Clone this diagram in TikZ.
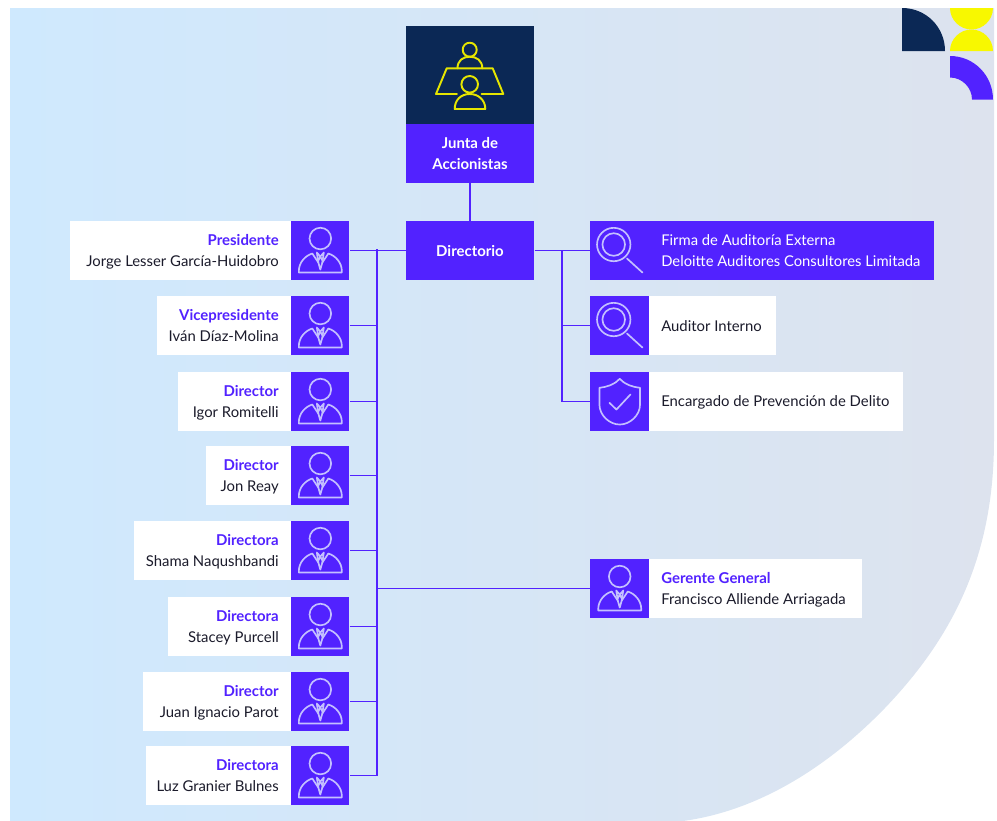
\documentclass[tikz,border=0pt]{standalone}
\usepackage{fontspec}
\setmainfont{Lato}
\definecolor{vio}{HTML}{5222FF}
\definecolor{navy}{HTML}{0B2855}
\definecolor{yel}{HTML}{F8F800}
\definecolor{yelline}{HTML}{E6E600}
\definecolor{ink}{HTML}{1B1B2B}
\definecolor{lav}{HTML}{C4C0FF}
\definecolor{bgl}{HTML}{CFE9FE}
\definecolor{bgr}{HTML}{DDE3EE}
\tikzset{
  wbox/.style={fill=white,draw=none,inner sep=0pt,anchor=north west,minimum height=43.9pt},
  vbox/.style={fill=vio,draw=none,inner sep=0pt,anchor=north west,minimum height=43.9pt},
  iconbox/.style={vbox,minimum width=43.6pt},
  riconbox/.style={vbox,minimum width=44.2pt},
  link/.style={draw=vio,line width=1.3pt},
  roletxt/.style={text=vio,font=\fontsize{11.2}{13}\selectfont\bfseries,inner sep=0pt},
  nametxt/.style={text=ink,font=\fontsize{11.15}{13}\selectfont,inner sep=0pt},
  whitetxt/.style={text=white,font=\fontsize{11.1}{13}\selectfont,inner sep=0pt},
  boldwhite/.style={text=white,font=\fontsize{11.2}{13}\selectfont\bfseries,inner sep=0pt},
  glyph/.style={draw=lav,line width=1.25pt,line join=round,line cap=round},
  pics/personicon/.style={code={
    \draw[glyph] (0,-12) circle (10.8);
    \draw[glyph] (-8,3) .. controls (-15,5) and (-21.5,12) .. (-21.5,20.5) -- (-21.5,22) -- (21.5,22) -- (21.5,20.5) .. controls (21.5,12) and (15,5) .. (8,3);
    \draw[glyph] (-8,3) -- (-2,12) -- (0,19) -- (2,12) -- (8,3);
    \draw[glyph] (-3.5,2) -- (-2,12) (3.5,2) -- (2,12) (-3.5,2) -- (0,6) -- (3.5,2) (-2.5,11) -- (0,6) -- (2.5,11);
  }},
  pics/lensicon/.style={code={
    \draw[glyph] (-6,-6) circle (16.7) (-6,-6) circle (11.3);
    \draw[glyph] (7.3,8) -- (22.7,22);
  }},
  pics/shieldicon/.style={code={
    \draw[glyph] (0,-22.7) .. controls (-5,-17) and (-13,-14.5) .. (-20.3,-13.7) -- (-20.3,3) .. controls (-20.3,14) and (-10,23) .. (0,23) .. controls (10,23) and (20.3,14) .. (20.3,3) -- (20.3,-13.7) .. controls (13,-14.5) and (5,-17) .. (0,-22.7) -- cycle;
    \draw[glyph] (-10.3,1.3) -- (-3.3,8) -- (10.7,-7);
  }}
}
\newcommand{\leftperson}[5]{%
  \node[wbox,minimum width={(291-#2)*0.75pt}] (#1w) at (#2,#3) {};
  \node[iconbox] (#1) at (291,#3) {};
  \pic at (#1.center) {personicon};
  \node[roletxt,anchor=base east] (#1r) at (279,#3+24) {#4};
  \node[nametxt,anchor=base east] (#1n) at (279,#3+45) {#5};
}
\begin{document}
\begin{tikzpicture}[x=0.75pt,y=-0.75pt]
\useasboundingbox (0,0) rectangle (997,821);
\shade[left color=bgl,right color=bgr] (10,8) -- (994,8) -- (994,440)
  .. controls (994,560) and (950,640) .. (885,708)
  .. controls (820,775) and (750,812) .. (683,821) -- (10,821) -- cycle;
% corner marks
\fill[navy] (902,8) .. controls (926,8) and (945,27) .. (945,51) -- (902,51) -- cycle;
\fill[yel] (950,8) -- (993,8) .. controls (993,20) and (983,29.5) .. (971.5,29.5) .. controls (960,29.5) and (950,20) .. (950,8) -- cycle;
\fill[yel] (950,51) -- (993,51) .. controls (993,39) and (983,29.5) .. (971.5,29.5) .. controls (960,29.5) and (950,39) .. (950,51) -- cycle;
\fill[vio] (950,56) .. controls (974,56) and (993,75.5) .. (993,99.5) -- (972,99.5) .. controls (972,87.5) and (962,77.5) .. (950,77.5) -- cycle;
% top boxes
\node[fill=navy,inner sep=0pt,anchor=north west,minimum width=96pt,minimum height=73.5pt] (juntaicon) at (406,26) {};
\node[vbox,minimum width=96pt] (junta) at (406,124) {};
\node[boldwhite,anchor=center] (j1) at (470,143) {Junta de};
\node[boldwhite,anchor=center] (j2) at (470,164) {Accionistas};
\begin{scope}[line width=1.45pt,line join=round,line cap=round]
\draw[draw=yelline] (469.7,49.7) circle (7);
\draw[draw=yelline] (457.5,68.3) .. controls (457.5,60.5) and (463,56.7) .. (469.7,56.7) .. controls (476.5,56.7) and (482.3,60.5) .. (482.3,68.3);
\draw[draw=yelline] (457,94) -- (436,94) -- (446.7,68.3) -- (492.7,68.3) -- (503.3,94) -- (481.7,94);
\draw[draw=yelline] (469.7,84.3) circle (8.3);
\draw[draw=yelline] (454.7,109) .. controls (454.7,100) and (461,94) .. (469.7,94) .. controls (478.4,94) and (485.3,100) .. (485.3,109) -- cycle;
\end{scope}
\node[vbox,minimum width=96pt] (dir) at (406,221) {};
\node[boldwhite,anchor=center] (dirt) at (470,251) {Directorio};
% left column
\leftperson{p1}{70}{221}{Presidente}{Jorge Lesser García-Huidobro}
\leftperson{p2}{157}{296}{Vicepresidente}{Iván Díaz-Molina}
\leftperson{p3}{178}{372}{Director}{Igor Romitelli}
\leftperson{p4}{206}{446}{Director}{Jon Reay}
\leftperson{p5}{134}{521}{Directora}{Shama Naqushbandi}
\leftperson{p6}{168}{597}{Directora}{Stacey Purcell}
\leftperson{p7}{143}{672}{Director}{Juan Ignacio Parot}
\leftperson{p8}{146}{746}{Directora}{Luz Granier Bulnes}
% right column
\node[vbox,minimum width=258pt] (firma) at (590,221) {};
\node[riconbox] (firmai) at (590,221) {};
\pic at (firmai.center) {lensicon};
\node[whitetxt,anchor=base west] (f1) at (661,245) {Firma de Auditoría Externa};
\node[whitetxt,anchor=base west] (f2) at (661,266) {Deloitte Auditores Consultores Limitada};
\node[wbox,minimum width=139.5pt] (audw) at (590,296) {};
\node[riconbox] (aud) at (590,296) {};
\pic at (aud.center) {lensicon};
\node[nametxt,anchor=base west] (audt) at (661,331) {Auditor Interno};
\node[wbox,minimum width=234.75pt] (encw) at (590,372) {};
\node[riconbox] (enc) at (590,372) {};
\pic at (enc.center) {shieldicon};
\node[nametxt,anchor=base west] (enct) at (661,406) {Encargado de Prevención de Delito};
\node[wbox,minimum width=204pt] (gerw) at (590,559) {};
\node[riconbox] (ger) at (590,559) {};
\pic at (ger.center) {personicon};
\node[roletxt,anchor=base west] (gerr) at (661,583) {Gerente General};
\node[nametxt,anchor=base west] (gern) at (661,604) {Francisco Alliende Arriagada};
% connectors
\coordinate (tl) at (377,249);
\coordinate (gl) at (376,588);
\coordinate (rt) at (562,250);
\draw[link] (junta.south) -- (dir.north);
\draw[link] (tl) -- (p8.east -| tl) -- (p8.east);
\draw[link] (dir.west) -- (p1.east);
\foreach \n in {p2,p3,p4,p5,p6,p7}{\draw[link] (\n.east) -- (\n.east -| tl);}
\draw[link] (ger.west -| gl) -- (ger.west);
\draw[link] (dir.east) -- (firma.west);
\draw[link] (rt) -- (enc.west -| rt) -- (enc.west);
\draw[link] (aud.west) -- (aud.west -| rt);
\end{tikzpicture}
\end{document}
